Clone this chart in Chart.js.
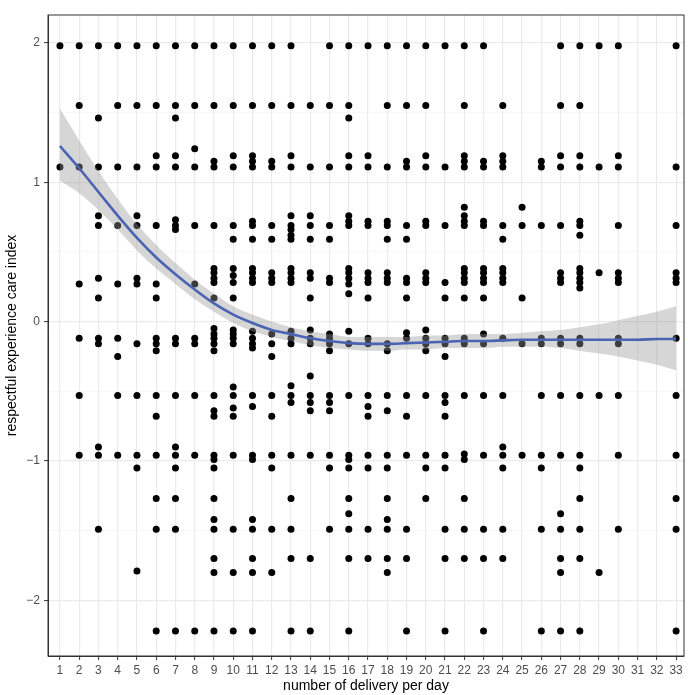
<!DOCTYPE html>
<html>
<head>
<meta charset="utf-8">
<script src="https://cdn.jsdelivr.net/npm/chart.js@4/dist/chart.umd.min.js"></script>
<style>
  body { margin: 0; background: #fff; }
  #wrap { width: 688px; height: 695px; position: relative; }
</style>
</head>
<body>
<div id="wrap"><canvas id="scatter"></canvas></div>
<script>
// number of deliveries per day (x breaks)
const days = [];
for (let d = 1; d <= 33; d++) days.push(d);

// care index values observed for each day (index 0 = day 1)
const careByDay = [
  [1.98, 1.11],
  [1.98, 1.55, 1.11, 0.27, -0.12, -0.53, -0.96],
  [1.98, 1.46, 1.11, 0.76, 0.69, 0.31, 0.17, -0.12, -0.16, -0.90, -0.96, -1.49],
  [1.98, 1.55, 1.11, 0.69, 0.27, -0.12, -0.25, -0.53, -0.96],
  [1.98, 1.55, 1.11, 0.76, 0.69, 0.31, 0.27, -0.16, -0.53, -0.96, -1.05, -1.79],
  [1.98, 1.55, 1.19, 1.11, 0.69, 0.27, 0.17, -0.12, -0.16, -0.21, -0.53, -0.68, -0.96, -1.27, -1.49, -2.22],
  [1.98, 1.55, 1.46, 1.19, 1.11, 0.73, 0.69, 0.66, -0.12, -0.16, -0.53, -0.90, -0.96, -1.05, -1.27, -1.49, -2.22],
  [1.98, 1.55, 1.24, 1.11, 0.69, 0.27, -0.12, -0.16, -0.53, -0.96, -2.22],
  [1.98, 1.55, 1.15, 1.11, 0.69, 0.38, 0.35, 0.31, 0.28, 0.17, -0.05, -0.09, -0.12, -0.16, -0.21, -0.53, -0.64, -0.68, -0.96, -0.99, -1.05, -1.27, -1.42, -1.49, -1.70, -1.80, -2.22],
  [1.98, 1.55, 1.19, 1.11, 0.69, 0.59, 0.38, 0.33, 0.28, 0.17, -0.06, -0.09, -0.12, -0.16, -0.47, -0.53, -0.62, -0.68, -0.96, -1.49, -1.80, -2.22],
  [1.98, 1.55, 1.19, 1.15, 1.11, 0.72, 0.69, 0.59, 0.38, 0.35, 0.31, 0.28, -0.07, -0.12, -0.16, -0.19, -0.53, -0.61, -0.96, -0.99, -1.42, -1.49, -1.70, -1.80, -2.22],
  [1.98, 1.55, 1.15, 1.11, 0.69, 0.59, 0.35, 0.31, 0.28, -0.09, -0.16, -0.25, -0.53, -0.68, -0.96, -1.05, -1.49, -1.80],
  [1.98, 1.55, 1.19, 1.11, 0.76, 0.69, 0.66, 0.62, 0.59, 0.38, 0.35, 0.31, 0.28, -0.07, -0.12, -0.16, -0.46, -0.53, -0.58, -0.96, -1.27, -1.49, -1.70, -2.22],
  [1.55, 1.11, 0.76, 0.69, 0.59, 0.35, 0.31, 0.17, -0.06, -0.12, -0.16, -0.39, -0.53, -0.58, -0.64, -0.96, -1.70, -2.22],
  [1.98, 1.55, 1.11, 0.69, 0.59, 0.31, 0.28, -0.09, -0.12, -0.16, -0.21, -0.53, -0.58, -0.64, -0.96, -1.05, -1.49],
  [1.98, 1.55, 1.46, 1.19, 1.11, 0.76, 0.72, 0.69, 0.38, 0.35, 0.31, 0.27, 0.20, -0.07, -0.16, -0.53, -0.96, -0.99, -1.05, -1.27, -1.38, -1.49, -1.70, -2.22],
  [1.98, 1.19, 1.11, 0.72, 0.69, 0.35, 0.31, 0.28, 0.17, -0.12, -0.16, -0.53, -0.61, -0.68, -0.96, -1.05, -1.49, -1.70],
  [1.98, 1.55, 1.11, 0.72, 0.69, 0.59, 0.35, 0.31, 0.28, -0.16, -0.21, -0.53, -0.64, -0.96, -1.05, -1.27, -1.42, -1.49, -1.70, -1.80],
  [1.98, 1.55, 1.15, 1.11, 0.69, 0.59, 0.31, 0.28, 0.17, -0.08, -0.12, -0.53, -0.68, -0.96, -1.49, -1.70, -2.22],
  [1.98, 1.55, 1.19, 1.11, 0.72, 0.69, 0.35, 0.31, 0.28, -0.06, -0.12, -0.16, -0.21, -0.53, -0.96, -1.05, -1.27],
  [1.98, 1.11, 0.69, 0.28, 0.17, -0.12, -0.16, -0.25, -0.53, -0.58, -0.68, -0.96, -1.05, -1.49, -1.70, -2.22],
  [1.98, 1.55, 1.19, 1.15, 1.11, 0.82, 0.76, 0.72, 0.69, 0.38, 0.35, 0.31, 0.28, 0.17, -0.12, -0.16, -0.53, -0.95, -0.99, -1.27, -1.49, -1.70],
  [1.98, 1.15, 1.11, 0.72, 0.69, 0.38, 0.35, 0.31, 0.28, 0.17, -0.09, -0.16, -0.53, -0.96, -1.49, -1.70, -2.22],
  [1.55, 1.19, 1.15, 1.11, 0.69, 0.59, 0.38, 0.35, 0.31, 0.28, -0.12, -0.53, -0.90, -0.96, -1.05, -1.49, -1.70],
  [0.82, 0.69, 0.17, -0.16, -0.96],
  [1.15, 1.11, 0.69, -0.12, -0.16, -0.53, -0.96, -1.05, -1.49, -2.22],
  [1.98, 1.55, 1.19, 1.11, 0.69, 0.35, 0.31, 0.28, -0.12, -0.16, -0.53, -0.96, -1.38, -1.49, -1.70, -1.80, -2.22],
  [1.98, 1.55, 1.19, 1.11, 0.72, 0.69, 0.62, 0.38, 0.35, 0.31, 0.28, 0.24, -0.12, -0.16, -0.53, -0.96, -1.05, -1.27, -1.49, -1.70, -2.22],
  [1.98, 1.11, 0.35, -0.53, -1.80],
  [1.98, 1.19, 1.11, 0.69, 0.35, 0.31, 0.28, -0.12, -0.16, -0.53, -0.96, -1.49],
  [],
  [],
  [1.98, 1.11, 0.69, 0.35, 0.31, 0.28, -0.12, -0.53, -0.96, -1.27, -1.49, -2.22]
];

// loess fit and its confidence band, read at each day
const smoothFit = [1.26, 1.10, 0.93, 0.76, 0.60, 0.46, 0.34, 0.23, 0.13, 0.05, -0.01, -0.06, -0.09, -0.12, -0.14, -0.155, -0.16,
  -0.16, -0.155, -0.15, -0.145, -0.14, -0.14, -0.135, -0.13, -0.13, -0.13, -0.13, -0.13, -0.13, -0.13, -0.125, -0.125];
const bandLow = [1.01, 0.92, 0.80, 0.66, 0.51, 0.38, 0.27, 0.16, 0.07, -0.01, -0.07, -0.11, -0.14, -0.17, -0.19, -0.20, -0.21,
  -0.21, -0.20, -0.20, -0.19, -0.19, -0.19, -0.18, -0.18, -0.18, -0.19, -0.21, -0.23, -0.25, -0.28, -0.31, -0.35];
const bandHigh = [1.53, 1.30, 1.08, 0.88, 0.70, 0.55, 0.42, 0.30, 0.20, 0.11, 0.05, 0.00, -0.04, -0.07, -0.09, -0.11, -0.11,
  -0.11, -0.11, -0.10, -0.10, -0.09, -0.09, -0.09, -0.08, -0.07, -0.06, -0.04, -0.02, 0.01, 0.04, 0.07, 0.11];

const yTicks = [-2, -1.5, -1, -0.5, 0, 0.5, 1, 1.5, 2];

const points = [];
careByDay.forEach((vals, i) => {
  vals.forEach(v => points.push({ x: days[i], y: v }));
});
const toXY = arr => arr.map((v, i) => ({ x: days[i], y: v }));

// panel border on all four sides (theme_bw)
const panelBorder = {
  id: 'panelBorder',
  afterDraw(chart) {
    const a = chart.chartArea;
    const c = chart.ctx;
    c.save();
    c.strokeStyle = '#333333';
    c.lineWidth = 1;
    c.strokeRect(a.left, a.top, a.right - a.left, a.bottom - a.top);
    c.restore();
  }
};

const font = 'Liberation Sans, Arial, Helvetica, sans-serif';

new Chart(document.getElementById('scatter').getContext('2d'), {
  type: 'scatter',
  data: {
    datasets: [
      {
        type: 'line',
        label: 'fit',
        data: toXY(smoothFit),
        borderColor: '#4a63b3',
        borderWidth: 2.6,
        pointRadius: 0,
        cubicInterpolationMode: 'monotone',
        fill: false
      },
      {
        type: 'line',
        label: 'low',
        data: toXY(bandLow),
        borderWidth: 0,
        pointRadius: 0,
        cubicInterpolationMode: 'monotone',
        fill: false
      },
      {
        type: 'line',
        label: 'high',
        data: toXY(bandHigh),
        borderWidth: 0,
        pointRadius: 0,
        cubicInterpolationMode: 'monotone',
        backgroundColor: 'rgba(153,153,153,0.4)',
        fill: '-1'
      },
      {
        label: 'obs',
        data: points,
        backgroundColor: '#000000',
        borderWidth: 0,
        pointRadius: 3.5
      }
    ]
  },
  options: {
    responsive: true,
    maintainAspectRatio: false,
    animation: false,
    events: [],
    layout: { padding: { top: 15, right: 1, left: 0, bottom: 0 } },
    plugins: { legend: { display: false }, tooltip: { enabled: false } },
    scales: {
      x: {
        type: 'linear',
        min: 0.38,
        max: 33.41,
        afterBuildTicks: axis => { axis.ticks = days.map(v => ({ value: v })); },
        afterFit: axis => { axis.height = 39; },
        border: { display: true, color: '#333333', width: 1 },
        grid: { color: '#ebebeb', lineWidth: 1.2, tickColor: '#333333', tickLength: 4, tickWidth: 1 },
        ticks: { autoSkip: false, maxRotation: 0, padding: 3, color: '#4d4d4d', font: { family: font, size: 12 } },
        title: { display: true, text: 'number of delivery per day', color: '#000', padding: { top: 0, bottom: 0 }, font: { family: font, size: 14 } }
      },
      y: {
        type: 'linear',
        min: -2.40,
        max: 2.20,
        afterBuildTicks: axis => { axis.ticks = yTicks.map(v => ({ value: v })); },
        afterFit: axis => { axis.width = 48; },
        border: { display: true, color: '#333333', width: 1 },
        grid: {
          color: c => Number.isInteger(c.tick.value) ? '#ebebeb' : '#f3f3f3',
          lineWidth: c => Number.isInteger(c.tick.value) ? 1.2 : 0.7,
          tickColor: c => Number.isInteger(c.tick.value) ? '#333333' : 'rgba(0,0,0,0)',
          tickLength: 4,
          tickWidth: 1
        },
        ticks: {
          autoSkip: false,
          padding: 4,
          color: '#4d4d4d',
          font: { family: font, size: 12 },
          callback: v => Number.isInteger(v) ? (v < 0 ? '\u2212' + Math.abs(v) : String(v)) : ''
        },
        title: { display: true, text: 'respectful experience care index', color: '#000', padding: { top: 4, bottom: 4 }, font: { family: font, size: 14 } }
      }
    }
  },
  plugins: [panelBorder]
});
</script>
</body>
</html>
